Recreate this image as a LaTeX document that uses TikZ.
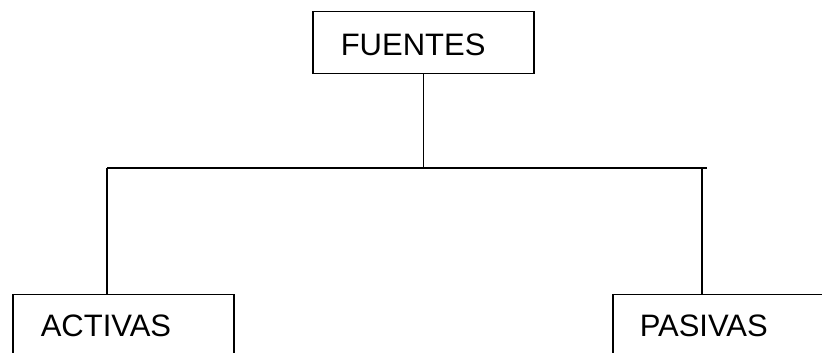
\documentclass[tikz,border=0pt]{standalone}
\usepackage{fontspec}
\setmainfont{Liberation Sans}
\usetikzlibrary{positioning,calc}

\begin{document}
\begin{tikzpicture}[x=1pt,y=1pt,line width=1.5pt,
	caja/.style={draw,anchor=north west,align=left,inner xsep=28pt,inner ysep=0pt,
		font=\fontsize{31}{37}\selectfont}]
\useasboundingbox (0,0) rectangle (822,353);
\clip (0,0) rectangle (822,353);

\node[caja,text width=165pt,text height=44pt,text depth=18pt](fuentes) at (312,342) {FUENTES};
\node[caja,text width=165pt,text height=42pt,text depth=80pt](activas) at (12,59) {ACTIVAS};
\node[caja,text width=184pt,text height=42pt,text depth=80pt,inner xsep=27pt](pasivas) at (612,59) {PASIVAS};

\coordinate(busL) at (107,185);
\coordinate(busR) at (707,185);
\coordinate(bajaR) at (702,185);

\draw(busL)--(busR);
\draw(fuentes.south)--(fuentes.south |- busL);
\foreach \x/\y in {busL/activas,bajaR/pasivas}
	\draw(\x)--(\x |- \y.north);

\end{tikzpicture}
\end{document}
